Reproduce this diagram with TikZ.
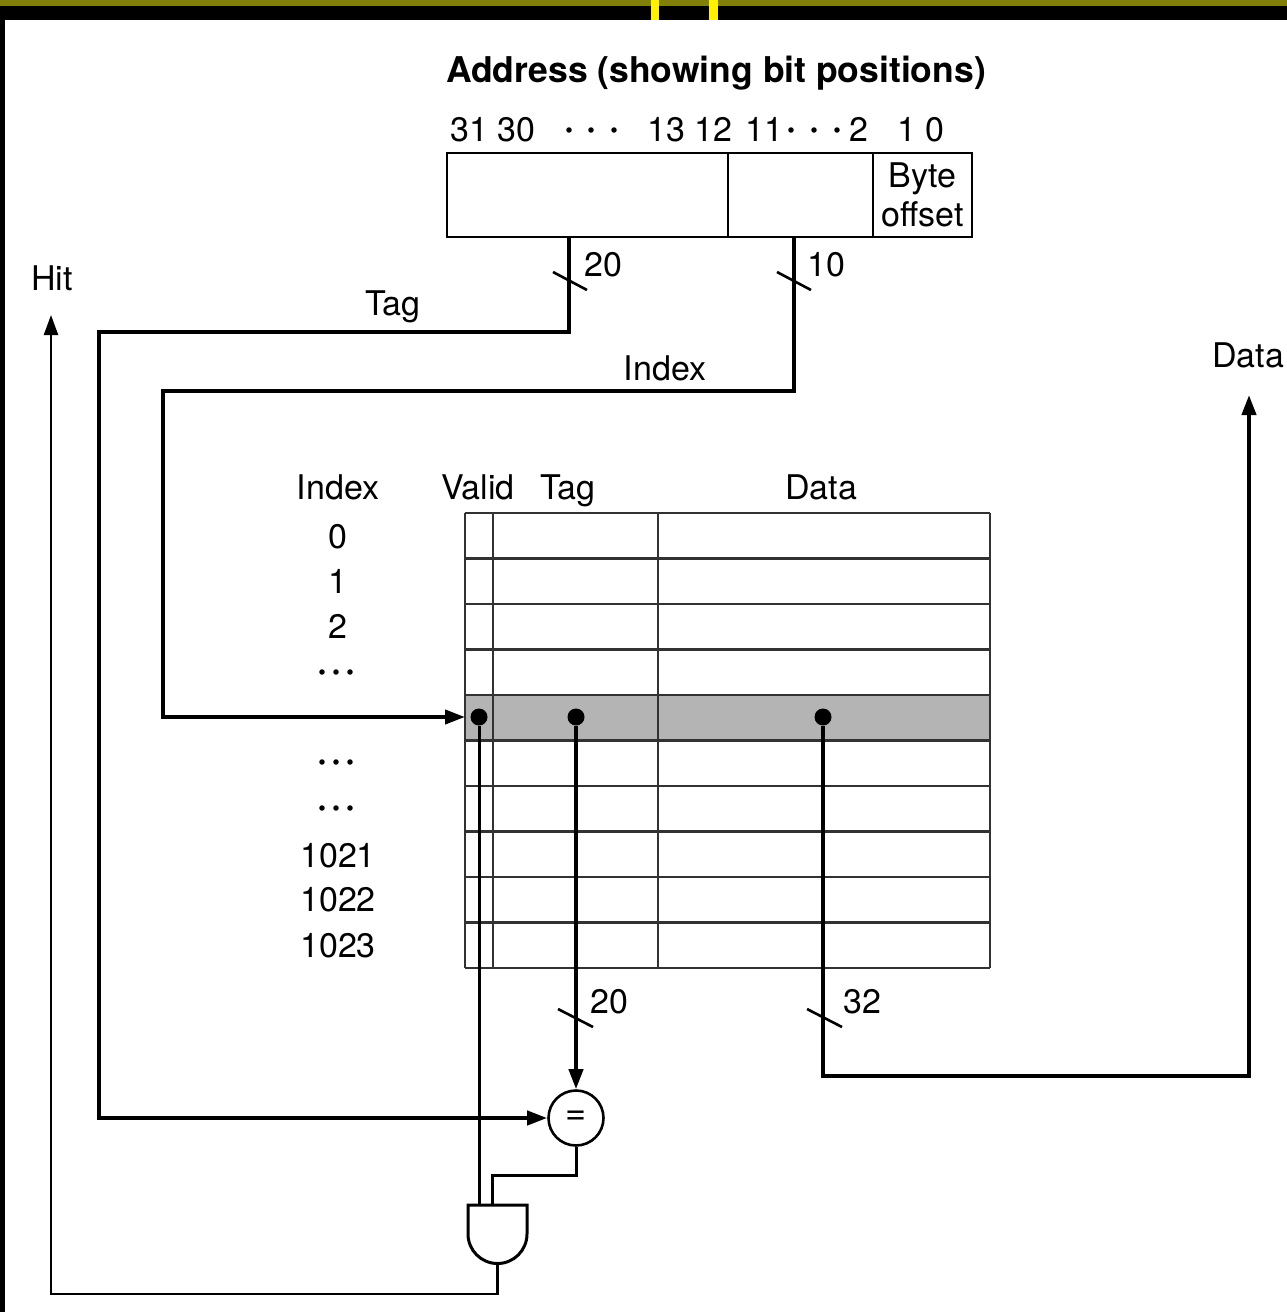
\documentclass[tikz,border=0pt]{standalone}
\usepackage{fontspec}
\setmainfont{TeX Gyre Heros}
\usetikzlibrary{arrows.meta}
\definecolor{olivebar}{RGB}{128,128,10}
\definecolor{hilite}{RGB}{180,180,180}
\definecolor{gridc}{RGB}{50,50,50}
\begin{document}
\begin{tikzpicture}[x=1pt,y=-1pt,
  lbl/.style={font=\fontsize{34}{39}\selectfont, inner sep=0pt, anchor=base},
  dotlbl/.style={font=\fontsize{36}{39}\selectfont\bfseries, inner sep=0pt, anchor=base},
  ttl/.style={font=\fontsize{35.5}{39}\selectfont\bfseries, inner sep=0pt, anchor=base},
  field/.style={draw, line width=2.6pt, minimum height=84pt, inner sep=0pt, outer sep=0pt,
                font=\fontsize{34}{39}\selectfont, align=center},
  bus/.style={line width=4pt},
  wire/.style={line width=3pt},
  thinwire/.style={line width=2.4pt},
  gridline/.style={line width=2.2pt, draw=gridc},
  tip/.style={-{Triangle[length=20pt,width=14pt]}},
  dotn/.style={circle, fill=black, inner sep=0pt, minimum size=17pt},
  slash/.style={line width=2.6pt},
  eqn/.style={circle, draw, line width=2.6pt, minimum size=55pt, inner sep=0pt,
              font=\fontsize{36}{39}\selectfont}
]
\useasboundingbox (0,0) rectangle (1287,1312);
% frame artifacts of the reference
\fill[black] (0,0) rectangle (5,1312);
\fill[black] (0,0) rectangle (1287,20);
\fill[olivebar] (0,0) rectangle (1287,6);
\fill[yellow] (651,0) rectangle (659,20);
\fill[yellow] (709,0) rectangle (718,20);

% title and bit positions
\node[ttl] (title) at (716,82) {Address (showing bit positions)};
\node[lbl] (b3130) at (493,141) {31 30};
\node[dotlbl] (bd1) at (569,139) {\textperiodcentered};
\node[dotlbl] (bd2) at (591,139) {\textperiodcentered};
\node[dotlbl] (bd3) at (614,139) {\textperiodcentered};
\node[lbl] (b1312) at (690,141) {13 12};
\node[lbl] (b11) at (764,141) {11};
\node[dotlbl] (bd4) at (791,139) {\textperiodcentered};
\node[dotlbl] (bd5) at (814,139) {\textperiodcentered};
\node[dotlbl] (bd6) at (837,139) {\textperiodcentered};
\node[lbl] (b2) at (859,141) {2};
\node[lbl] (b10) at (921,141) {1 0};

% address fields
\node[field, minimum width=281pt] (tagf) at (587.5,195) {};
\node[field, minimum width=145pt] (idxf) at (800.5,195) {};
\node[field, minimum width=99pt] (offf) at (922.5,195) {Byte\\offset};

\coordinate (tagsrc) at (569,237);
\coordinate (idxsrc) at (794,237);

% labels near address
\node[lbl] (n20a) at (603,276) {20};
\node[lbl] (n10a) at (826,276) {10};
\node[lbl] (tagl) at (393,315) {Tag};
\node[lbl] (idxl) at (665,380) {Index};
\node[lbl] (hitl) at (52,290) {Hit};
\node[lbl] (datal) at (1248,367) {Data};

% cache table
\fill[hilite] (465,695) rectangle (990,740.5);
\foreach \r in {0,...,10} {
  \draw[gridline] (465,513+45.5*\r) -- (990,513+45.5*\r);
}
\draw[gridline] (465,513) -- (465,968);
\draw[gridline] (493,513) -- (493,968);
\draw[gridline] (658,513) -- (658,968);
\draw[gridline] (990,513) -- (990,968);

% table headers
\node[lbl] (hidx) at (338,499) {Index};
\node[lbl] (hval) at (478,499) {Valid};
\node[lbl] (htag) at (568,499) {Tag};
\node[lbl] (hdat) at (821,499) {Data};

% index numbers
\node[lbl] (i0) at (338,548) {0};
\node[lbl] (i1) at (338,593) {1};
\node[lbl] (i2) at (338,638) {2};
\foreach \yy/\nm in {672/da,762/db,808/dc} {
  \node[dotlbl] (\nm1) at (323,\yy+9) {\textperiodcentered};
  \node[dotlbl] (\nm2) at (337,\yy+9) {\textperiodcentered};
  \node[dotlbl] (\nm3) at (350,\yy+9) {\textperiodcentered};
}
\node[lbl] (i1021) at (338,867) {1021};
\node[lbl] (i1022) at (338,911) {1022};
\node[lbl] (i1023) at (338,957) {1023};

% dots on selected row
\node[dotn] (vdot) at (479,717) {};
\node[dotn] (tdot) at (576,717) {};
\node[dotn] (ddot) at (823,717) {};
\coordinate (tblin) at (465,717);

% comparator
\node[eqn] (eq) at (576,1118) {=};

% AND gate
\draw[wire] (468,1205) -- (527,1205) -- (527,1234)
  .. controls (527,1250.3) and (513.8,1263.5) .. (497.5,1263.5)
  .. controls (481.2,1263.5) and (468,1250.3) .. (468,1234) -- cycle;
\coordinate (andin1) at (479,1205);
\coordinate (andin2) at (492,1205);
\coordinate (andout) at (497.5,1263.5);
\coordinate (hitend) at (51,315);
\coordinate (dataend) at (1249,395);

% connectors
\draw[bus,tip] (tagsrc) -- (569,332) -- (99,332) |- (eq);
\draw[bus,tip] (idxsrc) -- (794,391) -- (163,391) |- (tblin);
\draw[bus,tip] (tdot) -- (eq);
\draw[wire] (vdot) -- (andin1);
\draw[wire] (eq.south) -- (576,1175) -| (andin2);
\draw[thinwire,tip] (andout) -- (497.5,1294) -| (hitend);
\draw[bus,tip] (ddot) -- (823,1076) -| (dataend);

% bus width slashes
\draw[slash] (553,272) -- (587,290);
\draw[slash] (777,272) -- (811,290);
\draw[slash] (558,1009) -- (593,1027);
\draw[slash] (807,1009) -- (842,1027);
\node[lbl] (n20b) at (609,1013) {20};
\node[lbl] (n32) at (862,1013) {32};
\end{tikzpicture}
\end{document}
